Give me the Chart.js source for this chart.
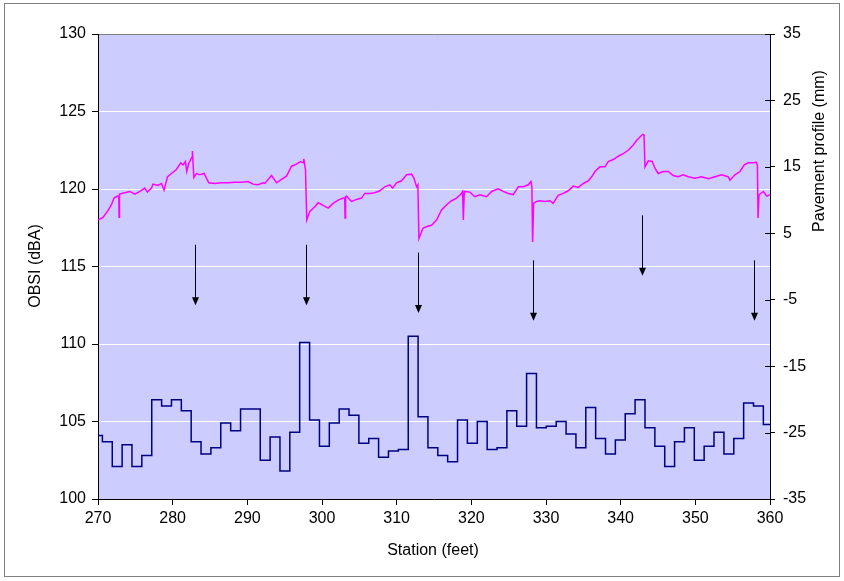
<!DOCTYPE html>
<html>
<head>
<meta charset="utf-8">
<script src="https://cdn.jsdelivr.net/npm/chart.js@4.4.1/dist/chart.umd.min.js"></script>
<style>
  body { margin: 0; background: #fff; }
</style>
</head>
<body>
<canvas id="myChart" width="844" height="581"></canvas>
<script>
// OBSI steps: edges (station, ft) and level (dBA) of each step
const obsiEdges = [270, 270.59, 271.91, 273.23, 274.55, 275.87, 277.20, 278.52, 279.84, 281.16, 282.48,
  283.80, 285.12, 286.44, 287.77, 289.09, 290.41, 291.73, 293.05, 294.37, 295.69,
  297.01, 298.34, 299.66, 300.98, 302.30, 303.62, 304.94, 306.26, 307.58, 308.90,
  310.23, 311.55, 312.87, 314.19, 315.51, 316.83, 318.15, 319.47, 320.80, 322.12,
  323.44, 324.76, 326.08, 327.40, 328.72, 330.04, 331.37, 332.69, 334.01, 335.33,
  336.65, 337.97, 339.29, 340.61, 341.93, 343.26, 344.58, 345.90, 347.22, 348.54,
  349.86, 351.18, 352.50, 353.83, 355.15, 356.47, 357.79, 359.11, 360];
const obsiLevel = [104.1, 103.7, 102.1, 103.5, 102.1, 102.8, 106.4, 106.0, 106.4, 105.7,
  103.7, 102.9, 103.3, 104.9, 104.4, 105.8, 105.8, 102.5, 104.0, 101.8,
  104.3, 110.1, 105.1, 103.4, 104.9, 105.8, 105.4, 103.6, 103.9, 102.7,
  103.1, 103.2, 110.5, 105.3, 103.3, 102.8, 102.4, 105.1, 103.6, 105.0,
  103.2, 103.3, 105.7, 104.7, 108.1, 104.6, 104.7, 105.0, 104.2, 103.3,
  105.9, 103.9, 102.9, 103.8, 105.5, 106.4, 104.6, 103.4, 102.1, 103.7,
  104.6, 102.5, 103.4, 104.3, 102.9, 103.9, 106.2, 106.0, 104.8];

// pavement profile (station ft, mm)
const profStation = [270.00, 270.67, 271.34, 271.80, 272.15, 272.60, 272.78, 272.82, 272.88, 273.58,
  274.26, 274.93, 275.60, 276.26, 276.62, 277.16, 277.37, 278.04, 278.50, 278.85,
  279.30, 279.83, 280.50, 281.08, 281.39, 281.71, 281.89, 282.15, 282.60, 282.65,
  282.83, 283.19, 283.63, 284.21, 284.84, 285.63, 286.53, 287.42, 288.32, 289.22,
  290.09, 290.77, 291.44, 292.11, 292.34, 293.24, 293.91, 294.58, 295.25, 295.92,
  296.58, 297.12, 297.47, 297.56, 297.79, 297.96, 298.37, 299.04, 299.48, 300.15,
  300.82, 301.49, 302.16, 302.84, 303.04, 303.09, 303.16, 303.28, 303.95, 304.62,
  305.29, 305.73, 306.40, 307.07, 307.74, 308.41, 309.08, 309.45, 309.98, 310.65,
  311.33, 312.00, 312.31, 312.67, 312.84, 312.98, 313.54, 314.22, 314.67, 315.34,
  316.01, 316.69, 317.36, 318.03, 318.61, 318.83, 318.93, 319.06, 319.80, 320.47,
  321.14, 322.04, 322.72, 323.60, 324.27, 324.94, 325.61, 326.29, 326.96, 327.63,
  327.98, 328.11, 328.21, 328.34, 328.75, 329.19, 329.86, 330.53, 330.96, 331.63,
  332.31, 332.98, 333.65, 334.32, 334.99, 335.66, 336.12, 336.56, 337.22, 337.89,
  338.34, 339.01, 339.68, 340.35, 341.02, 341.69, 342.15, 342.59, 342.95, 343.13,
  343.26, 343.70, 344.23, 344.59, 345.03, 345.70, 346.37, 347.04, 347.71, 348.38,
  349.05, 349.95, 350.85, 351.74, 352.64, 353.53, 354.41, 354.64, 355.31, 355.98,
  356.56, 357.10, 357.77, 358.13, 358.31, 358.40, 358.53, 359.11, 359.57, 360.00];
const profMm = [7.0, 7.4, 8.4, 9.3, 10.3, 10.6, 10.6, 7.4, 10.9, 11.1,
  11.3, 10.9, 11.3, 11.8, 11.2, 11.8, 12.4, 12.2, 12.5, 11.5,
  13.5, 14.0, 14.6, 15.6, 15.3, 15.8, 14.3, 15.5, 16.5, 17.4,
  13.4, 14.0, 13.8, 14.0, 12.6, 12.5, 12.6, 12.6, 12.7, 12.7,
  12.8, 12.4, 12.3, 12.6, 12.5, 13.7, 12.6, 13.1, 13.6, 15.1,
  15.4, 15.8, 15.6, 16.2, 14.6, 7.0, 8.3, 9.0, 9.6, 9.2,
  8.8, 9.5, 10.0, 10.3, 10.3, 7.3, 10.5, 10.6, 9.8, 10.1,
  10.3, 11.0, 11.0, 11.1, 11.4, 12.0, 12.3, 11.8, 12.6, 12.9,
  13.8, 13.9, 13.3, 12.0, 12.3, 4.2, 5.8, 6.1, 6.2, 7.0,
  8.5, 9.3, 9.9, 10.3, 10.9, 11.3, 7.0, 11.3, 11.2, 10.5,
  10.8, 10.5, 11.3, 11.7, 11.3, 11.0, 10.8, 12.0, 12.0, 12.3,
  12.8, 12.0, 3.7, 9.5, 9.8, 9.9, 9.8, 9.9, 9.5, 10.7,
  11.0, 11.4, 12.1, 11.9, 12.5, 12.9, 13.5, 14.3, 15.0, 15.0,
  15.8, 16.1, 16.6, 17.0, 17.5, 18.3, 19.0, 19.5, 19.9, 19.8,
  15.0, 15.9, 15.8, 14.8, 14.0, 14.3, 14.3, 13.7, 13.5, 13.8,
  13.5, 13.3, 13.5, 13.2, 13.5, 13.8, 13.5, 13.0, 13.8, 14.3,
  15.3, 15.6, 15.6, 15.7, 15.3, 7.3, 10.8, 11.3, 10.6, 10.8];

// arrows: station, start and tip on the OBSI axis
const arrowStation = [282.96, 297.83, 312.84, 328.25, 342.86, 357.86];
const arrowFrom = [116.4, 116.4, 115.9, 115.4, 118.3, 115.4];
const arrowTo = [112.5, 112.5, 112.0, 111.5, 114.4, 111.5];

const obsiData = obsiLevel.map((v, i) => ({ x: obsiEdges[i], y: v }));
obsiData.push({ x: obsiEdges[obsiEdges.length - 1], y: obsiLevel[obsiLevel.length - 1] });
const profData = profStation.map((s, i) => ({ x: s, y: profMm[i] }));

const FONT = '"Liberation Sans", Arial, sans-serif';
Chart.defaults.font.family = FONT;
Chart.defaults.font.size = 16;
Chart.defaults.color = '#000';

const decor = {
  id: 'decor',
  beforeDraw(chart) {
    const { ctx, chartArea: a } = chart;
    ctx.save();
    ctx.fillStyle = '#ccccff';
    ctx.fillRect(a.left, a.top, a.right - a.left, a.bottom - a.top);
    ctx.strokeStyle = '#808080';
    ctx.lineWidth = 1;
    ctx.strokeRect(4.5, 3.5, 835, 573);
    ctx.restore();
  },
  afterDraw(chart) {
    const { ctx, chartArea: a, scales } = chart;
    ctx.save();
    // inner half of the crossing ticks on the right axis
    ctx.strokeStyle = '#000';
    ctx.lineWidth = 1;
    scales.y2.ticks.forEach(t => {
      const y = Math.round(scales.y2.getPixelForValue(t.value)) + 0.5;
      ctx.beginPath();
      ctx.moveTo(a.right - 5, y);
      ctx.lineTo(a.right, y);
      ctx.stroke();
    });
    // arrows
    ctx.fillStyle = '#000';
    arrowStation.forEach((s, i) => {
      const x = Math.round(scales.x.getPixelForValue(s)) + 0.5;
      const y0 = scales.y.getPixelForValue(arrowFrom[i]);
      const y1 = scales.y.getPixelForValue(arrowTo[i]);
      ctx.beginPath();
      ctx.moveTo(x, y0);
      ctx.lineTo(x, y1 - 6);
      ctx.stroke();
      ctx.beginPath();
      ctx.moveTo(x, y1);
      ctx.lineTo(x - 3.5, y1 - 8);
      ctx.lineTo(x + 3.5, y1 - 8);
      ctx.closePath();
      ctx.fill();
    });
    // axis titles
    ctx.font = '16px ' + FONT;
    ctx.textAlign = 'center';
    ctx.textBaseline = 'middle';
    ctx.fillText('Station (feet)', 433, 551);
    ctx.translate(36, 266);
    ctx.rotate(-Math.PI / 2);
    ctx.fillText('OBSI (dBA)', 0, 0);
    ctx.restore();
    ctx.save();
    ctx.font = '16px ' + FONT;
    ctx.textAlign = 'center';
    ctx.textBaseline = 'middle';
    ctx.fillStyle = '#000';
    ctx.translate(820, 151);
    ctx.rotate(-Math.PI / 2);
    ctx.fillText('Pavement profile (mm)', 0, 0);
    ctx.restore();
  }
};

const ctx = document.getElementById('myChart');

new Chart(ctx, {
  type: 'line',
  data: {
    datasets: [{
      label: 'OBSI',
      data: obsiData,
      borderColor: '#000080',
      borderWidth: 1.5,
      stepped: 'before',
      pointRadius: 0,
      yAxisID: 'y'
    }, {
      label: 'Profile',
      data: profData,
      borderColor: '#ff00ff',
      borderWidth: 1.5,
      pointRadius: 0,
      tension: 0,
      yAxisID: 'y2'
    }]
  },
  options: {
    responsive: false,
    animation: false,
    events: [],
    layout: { padding: { top: 34, left: 0, right: 0, bottom: 0 } },
    plugins: { legend: { display: false }, tooltip: { enabled: false } },
    scales: {
      x: {
        type: 'linear',
        min: 270,
        max: 360,
        afterFit(s) { s.height = 82; },
        ticks: { stepSize: 10, maxRotation: 0, padding: 4 },
        grid: { drawOnChartArea: false, tickLength: 6, tickColor: '#000' },
        border: { color: '#000' }
      },
      y: {
        position: 'left',
        min: 100,
        max: 130,
        afterFit(s) { s.width = 98; },
        ticks: { stepSize: 5, padding: 6 },
        grid: {
          tickLength: 6,
          tickColor: '#000',
          color: c => c.tick.value === 130 ? '#808080' : (c.tick.value === 100 ? 'rgba(0,0,0,0)' : '#ffffff')
        },
        border: { color: '#000' }
      },
      y2: {
        position: 'right',
        min: -35,
        max: 35,
        afterFit(s) { s.width = 74; },
        ticks: { stepSize: 10, padding: 8 },
        grid: { drawOnChartArea: false, tickLength: 5, tickColor: '#000' },
        border: { color: '#000' }
      }
    }
  },
  plugins: [decor]
});
</script>
</body>
</html>
